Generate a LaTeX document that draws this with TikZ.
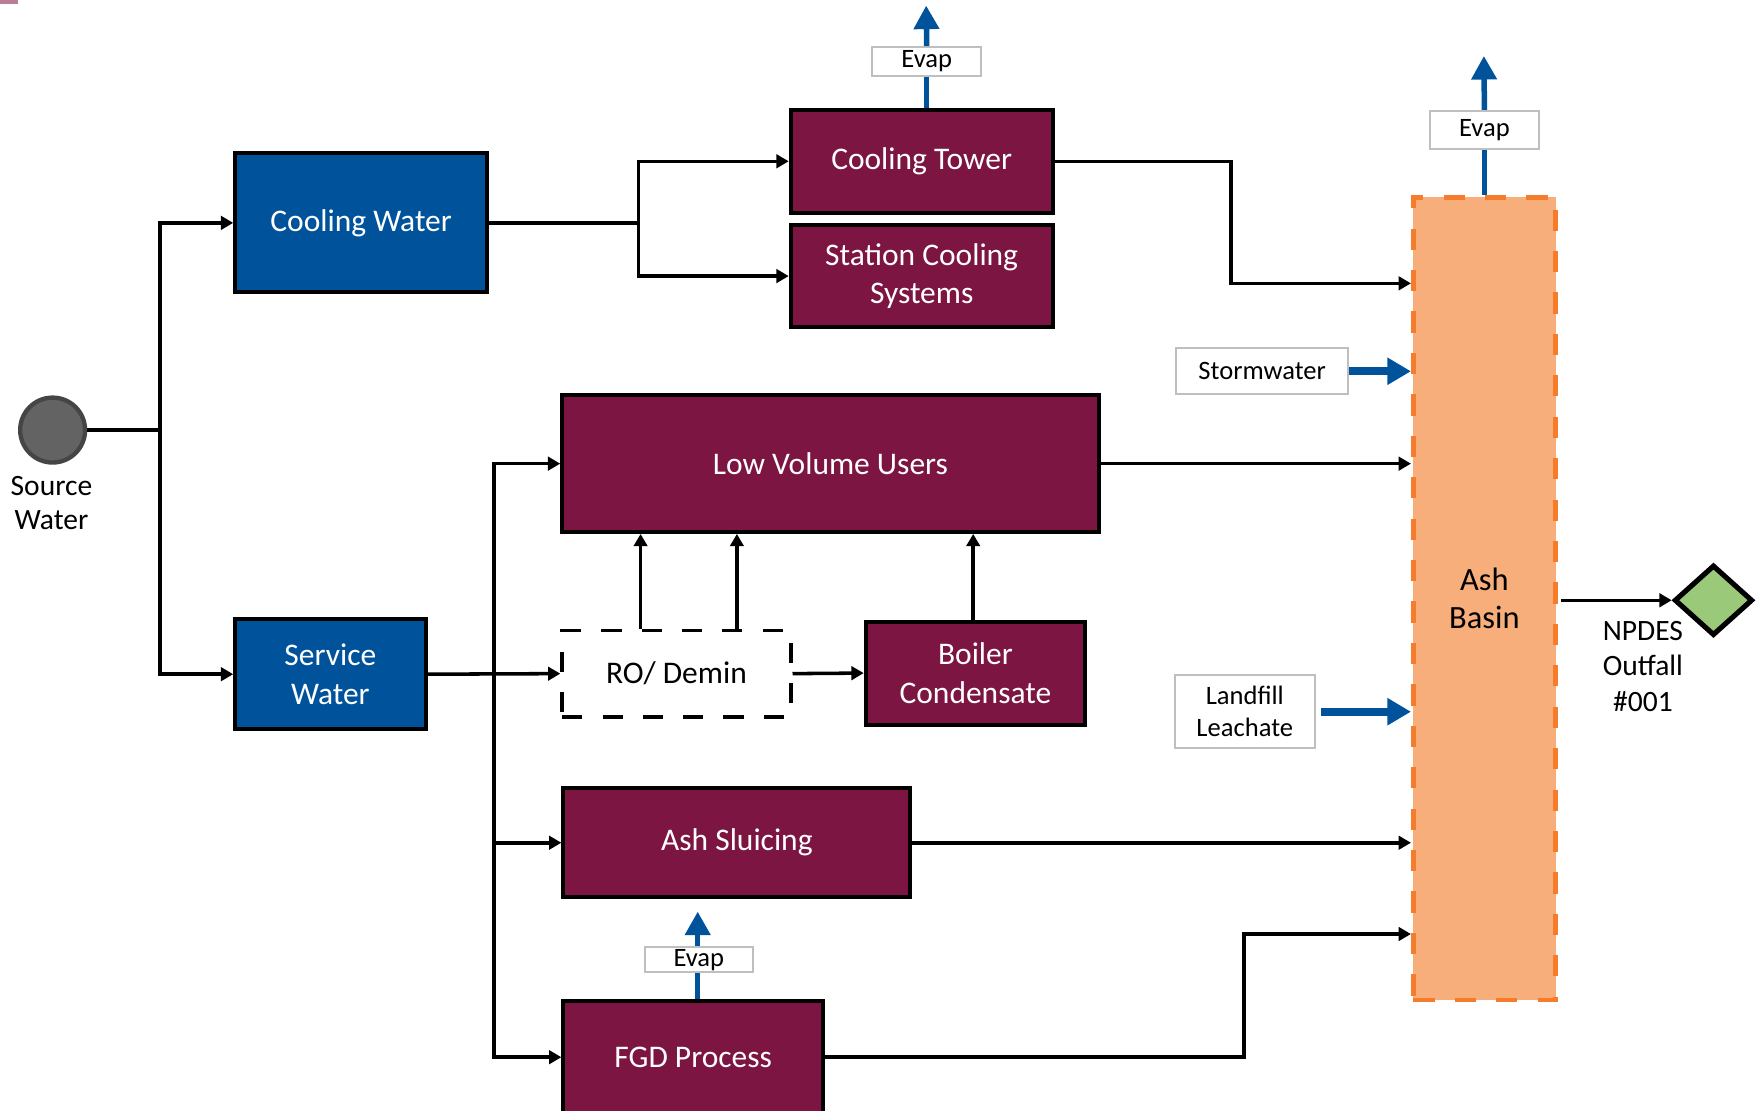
\documentclass[tikz,border=0pt]{standalone}
\usepackage{fontspec}
\setmainfont{Carlito}
\usetikzlibrary{arrows.meta,shapes.geometric,calc}
\definecolor{wblue}{HTML}{00539B}
\definecolor{maroon}{HTML}{7C1541}
\definecolor{peach}{HTML}{F7AE7B}
\definecolor{dorange}{HTML}{F47C2A}
\definecolor{dgreen}{HTML}{9BC97A}
\definecolor{cgray}{HTML}{636363}
\definecolor{cedge}{HTML}{454545}
\definecolor{lgray}{HTML}{BFBFBF}
\begin{document}
\begin{tikzpicture}[x=0.02cm,y=-0.02cm,
 bluebox/.style={draw=black,line width=2pt,fill=wblue,text=white,inner sep=0pt,align=center,font=\fontsize{16}{19.5}\selectfont},
 redbox/.style={bluebox,fill=maroon},
 labbox/.style={draw=lgray,line width=1pt,fill=white,inner sep=0pt,align=center,font=\fontsize{13.5}{16.4}\selectfont},
 flow/.style={draw=black,line width=1.8pt,-{Triangle[length=0.22cm,width=0.24cm]}},
 plain/.style={draw=black,line width=1.8pt},
 bflow/.style={draw=wblue,line width=2.8pt,-{Triangle[length=0.42cm,width=0.44cm]}},
 bline/.style={draw=wblue,line width=2.8pt},
 sflow/.style={draw=wblue,line width=4pt,-{Triangle[length=0.42cm,width=0.46cm]}},
]
\useasboundingbox[fill=white] (0,0) rectangle (1568,992);
\fill[maroon!55] (0,0) rectangle (16,4);

% nodes
\node[circle,fill=cgray,draw=cedge,line width=2.2pt,minimum size=1.16cm,inner sep=0pt] (src) at (47,384) {};
\node[align=center,font=\fontsize{15}{17.6}\selectfont] (srcl) at (46,449) {Source\\Water};

\node[bluebox,minimum width=4.5cm,minimum height=2.48cm] (cw) at (322.5,199) {Cooling Water};
\node[bluebox,minimum width=3.4cm,minimum height=1.96cm] (sw) at (295,602) {Service\\Water};

\node[redbox,minimum width=4.68cm,minimum height=1.84cm] (ct) at (823,144) {Cooling Tower};
\node[redbox,minimum width=4.68cm,minimum height=1.82cm] (sc) at (823,246.5) {Station Cooling\\Systems};
\node[redbox,minimum width=9.58cm,minimum height=2.44cm] (lv) at (741.5,414) {Low Volume Users};
\node[draw=black,line width=1.9pt,dash pattern=on 0.36cm off 0.36cm,fill=white,inner sep=0pt,minimum width=4.08cm,minimum height=1.54cm,font=\fontsize{16}{19.5}\selectfont] (ro) at (604,601.5) {RO/ Demin};
\node[redbox,minimum width=3.92cm,minimum height=1.84cm] (bc) at (871,601) {Boiler\\Condensate};
\node[redbox,minimum width=6.2cm,minimum height=1.94cm] (as) at (658,752.5) {Ash Sluicing};
\node[redbox,minimum width=4.64cm,minimum height=2.08cm] (fgd) at (619,946) {};
\node[font=\fontsize{16}{19.5}\selectfont,text=white] (fgdl) at (619,944) {FGD Process};

\node[draw=dorange,line width=2.4pt,dash pattern=on 0.38cm off 0.36cm,fill=peach,inner sep=0pt,minimum width=2.54cm,minimum height=14.34cm,align=center,font=\fontsize{16.5}{19.5}\selectfont] (ab) at (1325.5,534.5) {Ash\\Basin};

\node[labbox,minimum width=1.94cm,minimum height=0.52cm] (ev1) at (827.5,55) {Evap};
\node[labbox,minimum width=1.94cm,minimum height=0.68cm] (ev2) at (1325.5,116) {Evap};
\node[labbox,minimum width=1.92cm,minimum height=0.44cm] (ev3) at (624,857) {Evap};
\node[labbox,minimum width=3.08cm,minimum height=0.82cm] (storm) at (1127,331.5) {Stormwater};
\node[labbox,minimum width=2.5cm,minimum height=1.3cm] (land) at (1111.5,635.5) {Landfill\\Leachate};

\node[diamond,fill=dgreen,draw=black,line width=2.6pt,minimum width=1.4cm,minimum height=1.26cm,inner sep=0pt] (out) at (1530,536) {};
\node[align=center,font=\fontsize{15}{18.1}\selectfont] (npl) at (1467,595) {NPDES\\Outfall\\\#001};

% junction coordinates
\coordinate (j1) at (143,384);
\coordinate (j2) at (570,199);
\coordinate (j3) at (1099,253);
\coordinate (j4) at (441,602);
\coordinate (j5) at (1111,834);
\coordinate (a1) at (572,500);
\coordinate (a2) at (658,500);
\coordinate (t1) at (827,5);
\coordinate (t2) at (1325,50);
\coordinate (t3) at (623,814);

% black connectors
\draw[plain] (src.east) -- (j1);
\draw[flow] (j1) |- (cw.west);
\draw[flow] (j1) |- (sw.west);
\draw[plain] (cw.east) -- (j2);
\draw[flow] (j2) |- (ct.west);
\draw[flow] (j2) |- (sc.west);
\draw[flow] (ct.east) -| (j3) -- (ab.west |- j3);
\draw[flow] (lv.east) -- (ab.west |- lv.east);
\draw[flow] (sw.east) -- (ro.west);
\draw[flow] (j4) |- (lv.west);
\draw[flow] (j4) |- (as.west);
\draw[flow] (j4) |- (fgd.west |- fgdl);
\draw[flow] (ro.north -| a1) -- (lv.south -| a1);
\draw[flow] (ro.north -| a2) -- (lv.south -| a2);
\draw[flow] (ro.east) -- (bc.west);
\draw[flow] (bc.north -| 869,0) -- (lv.south -| 869,0);
\draw[flow] (as.east) -- (ab.west |- as.east);
\draw[flow] (fgd.east |- fgdl) -| (j5) -- (ab.west |- j5);
\draw[flow] ([xshift=0.06cm]ab.east |- out.west) -- (out.west);

% blue connectors
\draw[bline] (ct.north -| ev1.south) -- (ev1.south);
\draw[bflow] (ev1.north) -- (t1);
\draw[bline] (ab.north -| ev2.south) -- (ev2.south);
\draw[bflow] (ev2.north) -- (t2);
\draw[bline] (fgd.north -| t3) -- (ev3.south -| t3);
\draw[bflow] (ev3.north -| t3) -- (t3);
\draw[sflow] (storm.east) -- (ab.west |- storm.east);
\draw[sflow,shorten <=0.1cm] (land.east) -- (ab.west |- land.east);
\end{tikzpicture}
\end{document}
